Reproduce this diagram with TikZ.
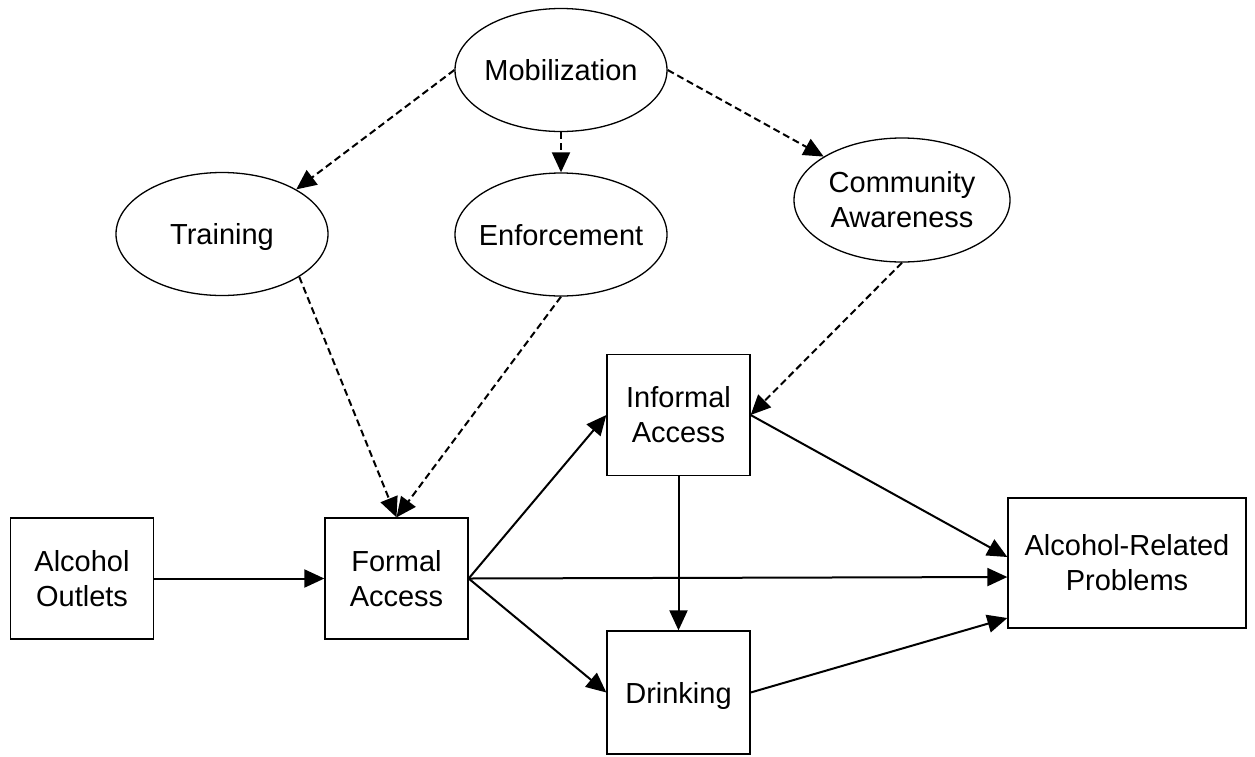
\documentclass[tikz,border=0pt]{standalone}
\usepackage{fontspec}
\setmainfont{Liberation Sans}
\usetikzlibrary{shapes.geometric,arrows.meta}
\begin{document}
\begin{tikzpicture}[x=1pt,y=-1pt,
 every node/.style={font=\fontsize{29}{35}\selectfont, align=center},
 oval/.style={draw, line width=1.3pt, ellipse, inner ysep=0pt, inner xsep=-15pt, minimum width=212pt, minimum height=123pt},
 box/.style={draw, line width=1.3pt, rectangle, inner sep=0pt, minimum width=143pt, minimum height=121pt},
 oneline/.style={text depth=0pt},
 link/.style={line width=2pt, -{Triangle[length=20pt,width=18pt]}},
 dlink/.style={link, dash pattern=on 7pt off 4pt}]
\useasboundingbox (0,0) rectangle (1255,756);
% ellipses
\node[oval, oneline] (mob) at (561,70) {Mobilization};
\node[oval, oneline] (train) at (222,234) {Training};
\node[oval, oneline] (enf) at (561,234.5) {Enforcement};
\node[oval, minimum width=216pt, minimum height=124pt] (comm) at (902,200) {Community\\Awareness};
% boxes
\node[box] (outlets) at (82,578.5) {Alcohol\\Outlets};
\node[box] (formal) at (396.5,578.5) {Formal\\Access};
\node[box] (informal) at (678.5,415) {Informal\\Access};
\node[box, oneline, minimum height=123pt] (drink) at (678.5,692.5) {Drinking};
\node[box, minimum width=238pt, minimum height=130pt] (arp) at (1127,563) {Alcohol-Related\\Problems};
% dashed links
\draw[dlink] (mob.west) -- (train.31);
\draw[dlink] (mob.south) -- (enf.north);
\draw[dlink] (mob.east) -- (comm.151);
\draw[dlink] (train.-29) -- (formal.north);
\draw[dlink] (enf.south) -- (formal.north);
\draw[dlink] (comm.south) -- (informal.east);
% solid links
\draw[link] (outlets.east) -- (formal.west);
\draw[link] (formal.east) -- (informal.west);
\draw[link] (formal.east) -- ([yshift=-14pt]arp.west);
\draw[link] (formal.east) -- (drink.west);
\draw[link] (informal.south) -- (drink.north);
\draw[link] (informal.east) -- ([yshift=6pt]arp.west);
\draw[link] (drink.east) -- ([yshift=-55pt]arp.west);
\end{tikzpicture}
\end{document}
